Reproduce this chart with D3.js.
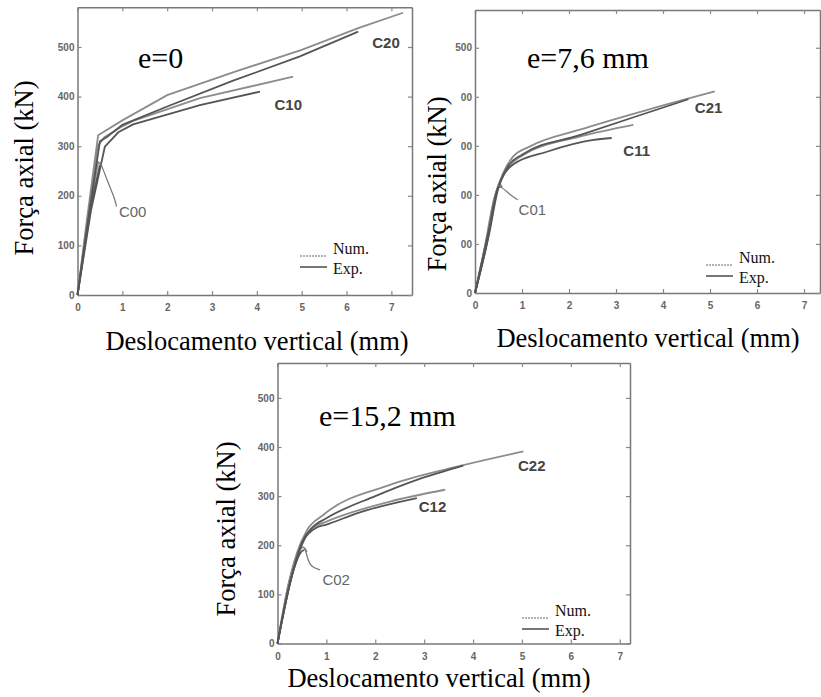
<!DOCTYPE html>
<html lang="pt">
<head>
<meta charset="UTF-8">
<title>Força axial x deslocamento vertical</title>
<script src="https://cdn.jsdelivr.net/npm/d3@7"></script>
<style>
  body { margin: 0; background: #fff; }
  svg { display: block; }
</style>
</head>
<body>
<script>
'use strict';

// ticks
const xTicks = [0, 1, 2, 3, 4, 5, 6, 7];
const yTicks = [0, 100, 200, 300, 400, 500];
const panelTitles = ['e=0', 'e=7,6 mm', 'e=15,2 mm'];
const legendNames = ['Num.', 'Exp.'];

// [deslocamento (mm), força (kN)]
// e = 0
const c20Num = [[0,0],[0.2,145],[0.46,322],[1,352],[2,403],[3.5,450],[5,494],[6.26,538],[7.26,569]];
const c20Exp = [[0,0],[0.25,160],[0.5,310],[0.65,318],[1,343],[2,380],[3.47,432],[4.96,481],[6.26,531]];
const c10Num = [[0,0],[0.2,135],[0.45,300],[0.6,318],[1,340],[1.24,351],[2.73,397],[4.81,440]];
const c10Exp = [[0,0],[0.3,170],[0.61,299],[0.91,328],[1.24,344],[2.73,383],[4.07,410]];
const c00Num = [[0,0],[0.25,165],[0.46,268],[0.52,264]];
const c00Exp = [[0,0],[0.3,180],[0.5,262]];
// e = 7,6 mm
const c21Num = [[0,0],[0.2,90],[0.4,190],[0.6,245],[0.81,278],[1.17,299],[2.23,333],[3.65,373],[5.1,411]];
const c21Exp = [[0,0],[0.25,100],[0.45,200],[0.7,258],[1,282],[2.23,322],[3.65,367],[4.54,395]];
const c11Num = [[0,0],[0.25,105],[0.45,205],[0.7,255],[1,280],[2.23,319],[3.37,343]];
const c11Exp = [[0,0],[0.3,120],[0.5,215],[0.81,262],[1.53,288],[2.52,312],[2.91,316]];
const c01Num = [[0,0],[0.25,110],[0.45,205],[0.55,222]];
const c01Exp = [[0,0],[0.3,130],[0.5,215],[0.58,218]];
// e = 15,2 mm
const c22Num = [[0,0],[0.2,110],[0.4,185],[0.6,230],[0.94,262],[2.3,323],[3.8,363],[5.03,391]];
const c22Exp = [[0,0],[0.25,120],[0.5,205],[0.7,235],[1,255],[2,300],[2.85,333],[3.8,362]];
const c12Num = [[0,0],[0.25,125],[0.5,208],[0.7,234],[1,248],[2.3,289],[3.43,313]];
const c12Exp = [[0,0],[0.3,140],[0.55,212],[0.8,236],[1,242],[1.62,265],[2.85,296]];
const c02Num = [[0,0],[0.25,130],[0.45,190],[0.52,196],[0.6,186]];
const c02Exp = [[0,0],[0.3,140],[0.5,188],[0.55,190]];

// curve labels: [name, x mm, y kN, bold]
const labels1 = [['C20', 6.88, 508, true], ['C10', 4.7, 383, true], ['C00', 1.23, 168, false]];
const labels2 = [['C21', 4.97, 377, true], ['C11', 3.44, 290, true], ['C01', 1.22, 171, false]];
const labels3 = [['C22', 5.2, 363, true], ['C12', 3.17, 279, true], ['C02', 1.2, 131, false]];
// leader lines to the C0x labels
const pointer1 = [[0.52,265],[0.69,225],[0.84,192],[0.87,178]];
const pointer2 = [[0.49,220],[0.62,212],[0.75,200],[0.91,190]];
const pointer3 = [[0.56,194],[0.62,172],[0.68,156],[0.87,150]];

const panels = [
  { left: 77.5, right: 412, top: 7.3, bottom: 295, xMax: 7.46, yMax: 580, curve: d3.curveLinear,
    num: [c20Num, c10Num, c00Num], exp: [c20Exp, c10Exp, c00Exp],
    labels: labels1, pointer: pointer1, title: panelTitles[0], titleX: 138, titleY: 68,
    yTitleX: 33, yTitleY: 168, xTitleX: 257, xTitleY: 350, legX: 300, legY: 256,
    mask: null },
  { left: 475, right: 820, top: 10, bottom: 293, xMax: 7.34, yMax: 577, curve: d3.curveMonotoneX,
    num: [c21Num, c11Num, c01Num], exp: [c21Exp, c11Exp, c01Exp],
    labels: labels2, pointer: pointer2, title: panelTitles[1], titleX: 527, titleY: 68,
    yTitleX: 446, yTitleY: 184, xTitleX: 648, xTitleY: 347, legX: 706, legY: 265,
    mask: [418, 88, 43, 164] },
  { left: 277.5, right: 630, top: 363, bottom: 643.5, xMax: 7.21, yMax: 571, curve: d3.curveMonotoneX,
    num: [c22Num, c12Num, c02Num], exp: [c22Exp, c12Exp, c02Exp],
    labels: labels3, pointer: pointer3, title: panelTitles[2], titleX: 319, titleY: 426,
    yTitleX: 235, yTitleY: 529, xTitleX: 439, xTitleY: 687, legX: 522, legY: 618,
    mask: null }
];

const serif = '"Liberation Serif", "Times New Roman", serif';
const sans = '"Liberation Sans", Arial, sans-serif';

const svg = d3.select('body').append('svg')
  .attr('width', 821)
  .attr('height', 697);

panels.forEach(p => {
  const x = d3.scaleLinear().domain([0, p.xMax]).range([p.left, p.right]);
  const y = d3.scaleLinear().domain([0, p.yMax]).range([p.bottom, p.top]);
  const g = svg.append('g');

  const styleAxis = sel => {
    sel.select('.domain').attr('stroke', '#777').attr('stroke-width', 1.5);
    sel.selectAll('.tick line').attr('stroke', '#888').attr('stroke-width', 1.2);
    sel.selectAll('.tick text')
      .attr('fill', '#666')
      .style('font-family', sans)
      .style('font-size', '10px')
      .style('font-weight', 'bold');
  };

  g.append('g')
    .attr('transform', 'translate(0,' + p.bottom + ')')
    .call(d3.axisBottom(x).tickValues(xTicks).tickSize(-4).tickSizeOuter(0).tickPadding(9))
    .call(styleAxis);
  g.append('g')
    .attr('transform', 'translate(0,' + p.top + ')')
    .call(d3.axisTop(x).tickValues(xTicks).tickSize(-4).tickSizeOuter(0).tickFormat(''))
    .call(styleAxis);
  g.append('g')
    .attr('transform', 'translate(' + p.left + ',0)')
    .call(d3.axisLeft(y).tickValues(yTicks).tickSize(-4).tickSizeOuter(0).tickPadding(3))
    .call(styleAxis);
  g.append('g')
    .attr('transform', 'translate(' + p.right + ',0)')
    .call(d3.axisRight(y).tickValues(yTicks).tickSize(-4).tickSizeOuter(0).tickFormat(''))
    .call(styleAxis);

  const line = d3.line()
    .x(d => x(d[0]))
    .y(d => y(d[1]))
    .curve(p.curve);

  g.selectAll('path.num')
    .data(p.num)
    .enter()
    .append('path')
    .attr('class', 'num')
    .attr('d', line)
    .attr('fill', 'none')
    .attr('stroke', '#8c8c8c')
    .attr('stroke-width', 1.8);

  g.selectAll('path.exp')
    .data(p.exp)
    .enter()
    .append('path')
    .attr('class', 'exp')
    .attr('d', line)
    .attr('fill', 'none')
    .attr('stroke', '#555')
    .attr('stroke-width', 1.8);

  // leader line C0x
  g.append('path')
    .attr('d', d3.line().x(d => x(d[0])).y(d => y(d[1])).curve(d3.curveBasis)(p.pointer))
    .attr('fill', 'none')
    .attr('stroke', '#777')
    .attr('stroke-width', 1.2);

  g.selectAll('text.lab')
    .data(p.labels)
    .enter()
    .append('text')
    .attr('class', 'lab')
    .attr('x', d => x(d[1]))
    .attr('y', d => y(d[2]))
    .attr('dy', '0.36em')
    .attr('text-anchor', 'middle')
    .attr('fill', d => d[3] ? '#444' : '#666')
    .style('font-family', sans)
    .style('font-size', '15px')
    .style('font-weight', d => d[3] ? 'bold' : 'normal')
    .text(d => d[0]);

  // legend
  legendNames.forEach((name, i) => {
    const ly = p.legY + i * 11;
    g.append('line')
      .attr('x1', p.legX).attr('x2', p.legX + 27)
      .attr('y1', ly).attr('y2', ly)
      .attr('stroke', i === 0 ? '#999' : '#555')
      .attr('stroke-width', 1.6)
      .attr('stroke-dasharray', i === 0 ? '2,1' : null);
    g.append('text')
      .attr('x', p.legX + 33)
      .attr('y', ly + (i === 0 ? -2 : 7))
      .attr('fill', '#111')
      .style('font-family', serif)
      .style('font-size', '16px')
      .text(name);
  });

  // panel title
  g.append('text')
    .attr('x', p.titleX)
    .attr('y', p.titleY)
    .attr('fill', '#000')
    .style('font-family', serif)
    .style('font-size', '30px')
    .text(p.title);

  if (p.mask) {
    g.append('rect')
      .attr('x', p.mask[0]).attr('y', p.mask[1])
      .attr('width', p.mask[2]).attr('height', p.mask[3])
      .attr('fill', '#fff');
  }

  g.append('text')
    .attr('transform', 'translate(' + p.yTitleX + ',' + p.yTitleY + ') rotate(-90)')
    .attr('text-anchor', 'middle')
    .attr('fill', '#000')
    .style('font-family', serif)
    .style('font-size', '26.5px')
    .text('Força axial (kN)');

  g.append('text')
    .attr('x', p.xTitleX)
    .attr('y', p.xTitleY)
    .attr('text-anchor', 'middle')
    .attr('fill', '#000')
    .style('font-family', serif)
    .style('font-size', '26.5px')
    .text('Deslocamento vertical (mm)');
});
</script>
</body>
</html>
